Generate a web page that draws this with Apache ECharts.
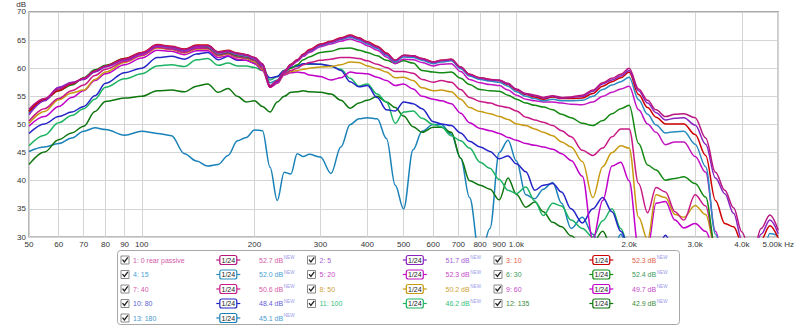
<!DOCTYPE html>
<html><head><meta charset="utf-8">
<script src="https://cdn.jsdelivr.net/npm/echarts@6/dist/echarts.min.js"></script>
<style>html,body{margin:0;padding:0;background:#fff}#c{width:797px;height:327px}</style>
</head><body><div id="c"></div>
<script>
const freqs = [50,55,60,65,70,75,80,90,100,110,120,130,140,150,160,170,180,190,200,210,220,230,240,250,260,270,280,300,320,340,360,380,400,425,450,475,500,530,560,600,630,670,710,750,800,850,900,950,1000,1060,1120,1180,1250,1320,1400,1500,1600,1700,1800,1900,2000,2120,2240,2360,2500,2650,2800,3000,3200,3400,3600,3800,4000,4250,4500,4750,5000];

const s1 = [52.7,54.6,56.3,57.3,58.2,59.5,60.4,61.6,62.7,64.1,
 63.8,63.3,64.0,64.0,62.8,63.1,62.6,62.4,61.9,60.8,
 56.9,57.8,59.4,60.6,61.4,62.4,63.2,64.2,64.7,65.3,
 65.8,65.3,64.6,63.8,62.6,61.4,62.3,62.2,61.7,61.1,
 61.4,61.6,60.2,58.9,58.3,58.0,57.9,57.3,56.3,55.5,
 55.2,54.8,55.1,54.8,54.9,55.2,56.1,57.4,58.2,58.9,
 60.0,56.3,54.3,52.6,51.4,51.8,51.9,51.2,47.6,41.5,
 38.3,35.2,30.9,26.0,31.5,33.9,31.2];
const s2 = [51.7,54.2,56.6,57.5,58.0,59.3,60.3,61.5,62.6,64.0,
 63.8,63.2,63.9,64.0,62.8,63.0,62.6,62.3,61.8,60.6,
 56.8,57.6,59.3,60.6,61.4,62.4,63.1,64.1,64.6,65.2,
 65.7,65.2,64.5,63.7,62.5,61.3,62.2,62.1,61.6,61.0,
 61.3,61.5,60.1,58.8,58.2,57.9,57.8,57.2,56.2,55.4,
 55.1,54.7,55.0,54.7,54.8,55.0,55.9,57.2,57.9,58.6,
 59.6,56.0,53.8,52.1,50.8,51.1,51.2,49.9,46.5,40.5,
 37.7,34.2,29.5,25.5,30.5,33.0,30.6];
const s3 = [52.3,54.4,56.0,57.2,58.2,59.5,60.4,61.7,62.8,64.2,
 63.9,63.4,64.1,64.1,62.9,63.2,62.7,62.4,61.9,60.7,
 56.7,57.7,59.4,60.7,61.5,62.5,63.3,64.3,64.8,65.4,
 65.9,65.4,64.7,63.9,62.7,61.4,62.3,62.2,61.7,61.1,
 61.4,61.6,60.2,58.9,58.3,58.0,57.8,57.1,56.1,55.3,
 54.9,54.5,54.9,54.6,54.6,54.7,55.5,56.8,57.6,58.3,
 59.3,55.3,53.0,51.3,50.1,50.1,50.1,48.2,44.5,36.5,
 32.4,31.8,29.0,25.0,29.5,32.0,29.8];
const s4 = [52.0,54.3,56.1,57.2,58.1,59.4,60.3,61.5,62.6,64.0,
 63.7,63.2,63.9,63.9,62.7,63.0,62.5,62.2,61.8,60.7,
 57.4,57.9,59.5,60.6,61.4,62.3,63.0,64.0,64.5,65.1,
 65.5,65.0,64.3,63.5,62.3,61.1,62.0,61.9,61.4,60.8,
 61.1,61.3,59.9,58.6,58.0,57.7,57.5,56.8,55.8,55.0,
 54.6,54.2,54.5,54.2,54.2,54.3,55.0,56.2,57.0,57.6,
 58.4,54.4,51.8,49.9,48.5,48.7,48.8,46.5,42.5,30.5,
 25.0,25.0,25.0,25.0,25.5,30.6,30.2];
const s5 = [52.3,54.5,56.5,57.4,58.1,59.4,60.2,61.4,62.4,63.9,
 63.6,63.0,63.7,63.8,62.6,62.9,62.4,62.1,61.6,60.4,
 56.6,57.5,59.2,60.4,61.2,62.1,62.8,63.8,64.3,64.8,
 65.2,64.7,64.0,63.2,62.0,60.8,61.6,61.5,61.0,60.4,
 60.7,60.8,59.4,58.0,57.4,57.1,56.9,56.1,55.2,54.5,
 54.2,54.0,54.0,53.8,53.6,53.5,54.0,55.0,55.7,56.3,
 56.8,52.6,50.1,48.6,46.4,46.9,46.9,44.3,41.5,31.0,
 25.0,25.0,25.0,25.0,25.0,26.0,25.0];
const s6 = [52.4,54.5,56.0,57.0,58.3,59.7,60.5,61.7,62.7,64.0,
 63.6,63.0,63.7,63.7,62.5,62.8,62.2,62.0,61.5,60.3,
 56.8,57.6,59.2,60.0,60.6,61.5,62.0,62.8,63.0,63.5,
 63.6,63.2,62.8,62.2,61.4,60.9,61.3,60.9,59.6,59.3,
 59.2,59.3,58.2,57.1,56.2,56.0,55.9,55.2,54.5,53.8,
 53.4,53.1,52.6,51.8,51.2,50.2,49.8,50.7,51.9,52.8,
 53.4,46.6,42.8,41.9,40.1,40.4,40.7,39.5,37.1,28.0,
 25.0,25.0,25.0,25.0,25.0,25.0,25.0];
const s7 = [50.6,52.8,54.6,56.0,57.0,58.7,59.8,61.2,62.3,63.7,
 63.4,62.8,63.5,63.5,62.3,62.6,62.0,61.8,61.3,60.0,
 56.6,57.4,58.9,59.6,60.0,60.6,61.0,61.4,61.6,61.9,
 61.9,61.7,61.3,60.7,60.1,59.4,59.4,59.1,58.0,57.5,
 57.8,57.5,56.2,54.8,54.1,53.8,53.3,53.0,52.4,51.3,
 50.8,50.4,49.8,48.9,47.8,45.4,44.5,45.8,47.8,49.2,
 49.2,39.5,34.3,38.8,38.0,34.5,33.0,37.5,35.5,28.0,
 25.0,25.0,25.0,25.0,25.0,25.0,25.0];
const s8 = [50.2,52.3,54.4,55.6,56.1,58.0,59.3,61.0,62.2,63.6,
 63.3,62.7,63.4,63.4,62.2,62.5,61.9,61.7,61.1,59.8,
 56.8,57.4,58.9,59.4,59.6,59.8,60.0,60.2,60.3,60.6,
 61.1,61.0,60.4,59.9,59.3,58.3,58.4,57.8,56.5,56.0,
 56.1,55.8,54.5,53.0,52.3,51.9,51.4,50.9,50.1,49.8,
 49.2,48.6,48.0,46.9,46.0,43.4,37.0,42.5,45.0,46.2,
 45.8,33.5,29.5,37.5,37.0,34.0,33.5,35.6,34.0,28.0,
 25.0,25.0,25.0,25.0,25.0,25.0,25.0];
const s9 = [49.7,51.4,53.2,54.8,56.0,57.8,59.0,60.6,61.8,63.2,
 63.0,62.4,63.1,63.1,61.9,62.2,61.6,61.4,60.8,59.6,
 56.6,57.3,58.8,59.2,59.3,59.2,58.8,58.5,57.9,58.3,
 59.3,59.1,59.0,58.4,57.8,56.9,57.2,56.3,55.0,54.5,
 54.2,53.7,52.0,50.3,49.3,48.9,48.4,47.7,47.2,46.6,
 46.3,46.0,45.6,44.8,43.6,40.8,29.5,36.5,42.6,43.3,
 40.0,28.0,28.0,36.0,36.3,33.0,31.6,32.4,31.0,27.0,
 25.0,25.0,25.0,25.0,25.0,25.0,25.0];
const s10 = [48.4,50.1,51.4,52.2,53.2,55.1,57.3,59.2,60.0,61.9,
 62.1,61.6,62.5,62.8,61.5,62.1,61.4,61.4,60.9,59.8,
 58.3,58.5,59.6,60.1,60.4,60.8,60.8,60.7,60.4,59.6,
 57.6,56.7,56.9,54.8,52.6,52.4,54.0,53.7,52.8,50.5,
 50.1,49.8,48.5,47.0,46.0,45.2,43.9,44.4,43.0,41.6,
 38.3,39.2,39.5,38.0,35.0,32.5,35.0,37.0,34.5,31.0,
 28.0,26.0,26.0,27.0,30.3,27.0,25.0,25.0,25.0,25.0,
 25.0,25.0,25.0,25.0,25.0,25.0,25.0];
const s11 = [46.2,48.1,50.3,51.6,52.8,54.5,56.6,58.1,59.0,60.4,
 60.6,60.3,61.5,61.7,60.5,60.9,60.4,60.4,60.1,59.6,
 57.9,58.5,59.6,60.1,60.4,60.7,60.7,60.7,60.3,59.8,
 58.2,56.8,57.2,55.4,54.0,50.2,52.2,52.4,51.1,50.0,
 49.6,48.0,47.1,45.8,43.3,42.2,40.2,38.3,37.7,38.9,
 36.4,33.8,36.0,35.5,33.0,31.5,30.0,32.9,35.0,31.5,
 28.0,26.0,25.0,25.0,25.0,25.0,25.0,25.0,25.0,25.0,
 25.0,25.0,25.0,25.0,25.0,25.0,25.0];
const s12 = [42.9,45.1,47.3,48.5,49.7,52.3,54.1,54.7,55.0,56.0,
 56.1,55.8,56.8,57.2,55.7,56.4,55.0,54.0,54.2,53.2,
 52.2,54.0,55.0,55.7,55.8,56.0,55.8,55.7,55.4,54.3,
 52.9,53.8,54.3,55.0,54.0,53.0,51.5,49.6,48.6,49.5,
 49.5,48.6,44.0,40.0,39.2,38.5,36.6,40.5,37.6,35.3,
 36.2,34.5,32.6,31.8,30.2,28.5,29.0,31.0,28.0,27.0,
 26.0,25.0,25.0,25.0,25.0,25.0,25.0,25.0,25.0,25.0,
 25.0,25.0,25.0,25.0,25.0,25.0,25.0];
const s13 = [45.2,46.0,46.6,47.6,48.8,49.4,49.1,48.1,48.8,48.4,
 48.0,44.8,43.5,42.6,42.9,44.5,47.1,47.7,49.0,48.9,
 42.4,36.5,41.5,41.2,44.8,44.3,44.7,44.2,41.3,46.0,
 50.0,51.0,51.2,51.0,47.5,39.2,35.0,45.5,48.8,50.0,
 50.0,48.3,44.0,37.0,26.0,31.5,45.0,47.2,43.5,37.5,
 36.8,38.5,39.7,36.0,31.5,33.5,30.5,27.0,27.0,30.5,
 27.0,25.0,25.0,25.0,25.0,25.0,25.0,25.0,25.0,25.0,
 25.0,25.0,25.0,25.0,25.0,25.0,25.0];

const seriesNames = ['1: 0 rear passive','2: 5','3: 10','4: 15','5: 20','6: 30','7: 40','8: 50','9: 60','10: 80','11: 100','12: 135','13: 180'];
const legendValues = ['52.7 dB','51.7 dB','52.3 dB','52.0 dB','52.3 dB','52.4 dB','50.6 dB','50.2 dB','49.7 dB','48.4 dB','46.2 dB','42.9 dB','45.1 dB'];
const xTicks = [50,60,70,80,90,100,200,300,400,500,600,700,800,900,1000,2000,3000,4000,5000];

const allSeries = [s1,s2,s3,s4,s5,s6,s7,s8,s9,s10,s11,s12,s13];
const lineColors = ['#b8167e','#8a22c2','#cc0000','#2a8cc0','#c214c2','#148a14','#c81a86','#c89a10','#c000c8','#2424c8','#1cb462','#0e760e','#1a82b8'];
const textColors = ['#d45aa8','#a65ad6','#e0604a','#4aa2d4','#c848c8','#3a9a5a','#d45aa8','#cfa23a','#c64ac6','#6060d6','#36c07a','#3c8c3c','#4a9ad0'];
const FONT = 'Liberation Sans';

const chart = echarts.init(document.getElementById('c'), null, {renderer: 'svg'});

const series = allSeries.map((vals, i) => ({
  name: seriesNames[i],
  type: 'line',
  data: freqs.map((f, j) => [f, vals[j]]),
  showSymbol: false,
  smooth: 0.35,
  smoothMonotone: 'x',
  clip: true,
  z: 20 - i,
  lineStyle: {color: lineColors[i], width: 1.5},
  itemStyle: {color: lineColors[i]},
  animation: false
}));

const colX = [125, 311.5, 498];
const rowY = [260, 274.5, 289, 303.5, 318];
const graphics = [{
  type: 'rect', shape: {x: 117.5, y: 250.5, width: 562, height: 74, r: 3},
  style: {fill: '#fff', stroke: '#a8a8a8', lineWidth: 1}
}];
seriesNames.forEach((name, i) => {
  const x0 = colX[i % 3], y0 = rowY[Math.floor(i / 3)];
  graphics.push({type: 'rect', shape: {x: x0 - 4, y: y0 - 4, width: 8, height: 8},
    style: {fill: '#fff', stroke: '#8a8a8a', lineWidth: 1}});
  graphics.push({type: 'polyline', shape: {points: [[x0 - 2.5, y0 - 0.3], [x0 - 0.6, y0 + 2], [x0 + 2.8, y0 - 2.6]]},
    style: {stroke: '#222', lineWidth: 1.3, fill: null}});
  graphics.push({type: 'text', x: x0 + 8, y: y0,
    style: {text: name, fill: textColors[i], font: '7px "' + FONT + '"', align: 'left', verticalAlign: 'middle', textAlign: 'left', textVerticalAlign: 'middle'}});
  const bx = x0 + 103.3;
  graphics.push({type: 'line', shape: {x1: bx - 12, y1: y0, x2: bx + 12, y2: y0},
    style: {stroke: lineColors[i], lineWidth: 1.2}});
  graphics.push({type: 'rect', shape: {x: bx - 8.5, y: y0 - 4.5, width: 17, height: 9, r: 2},
    style: {fill: '#fff', stroke: lineColors[i], lineWidth: 1.2}});
  graphics.push({type: 'text', x: bx, y: y0,
    style: {text: '1/24', fill: '#222', font: '7px "' + FONT + '"', align: 'center', verticalAlign: 'middle', textAlign: 'center', textVerticalAlign: 'middle'}});
  graphics.push({type: 'text', x: x0 + 134, y: y0,
    style: {text: legendValues[i], fill: textColors[i], font: '7px "' + FONT + '"', align: 'left', verticalAlign: 'middle', textAlign: 'left', textVerticalAlign: 'middle'}});
  graphics.push({type: 'text', x: x0 + 158.8, y: y0 - 2.4,
    style: {text: 'NEW', fill: '#9a9ae8', font: '4.6px "' + FONT + '"', align: 'left', verticalAlign: 'middle', textAlign: 'left', textVerticalAlign: 'middle'}});
});

chart.setOption({
  animation: false,
  backgroundColor: '#fff',
  grid: {left: 29, right: 15, top: 11, bottom: 90, show: true, borderColor: '#a8a8a8', borderWidth: 1.6, backgroundColor: '#fff'},
  xAxis: {
    type: 'log', logBase: 10, min: 50, max: 5000,
    axisLine: {show: false},
    axisTick: {show: false, customValues: xTicks},
    axisLabel: {
      customValues: xTicks, fontSize: 8, fontFamily: FONT, color: '#333', margin: 3,
      formatter: v => v < 1000 ? String(v) : (v === 5000 ? '5.00k Hz' : (v / 1000).toFixed(1) + 'k')
    },
    splitLine: {show: true, lineStyle: {color: '#d4d4d4', width: 1}},
    minorTick: {show: false}, minorSplitLine: {show: false}
  },
  yAxis: {
    type: 'value', min: 30, max: 70, interval: 5,
    name: 'dB', nameGap: 2, nameTextStyle: {fontSize: 8, fontFamily: FONT, color: '#333', align: 'right', padding: [0, 3, 0, 0]},
    axisLine: {show: false}, axisTick: {show: false},
    axisLabel: {fontSize: 8, fontFamily: FONT, color: '#333', margin: 3},
    splitLine: {show: true, lineStyle: {color: '#d4d4d4', width: 1}}
  },
  series: series,
  graphic: graphics
});
</script>
</body></html>
